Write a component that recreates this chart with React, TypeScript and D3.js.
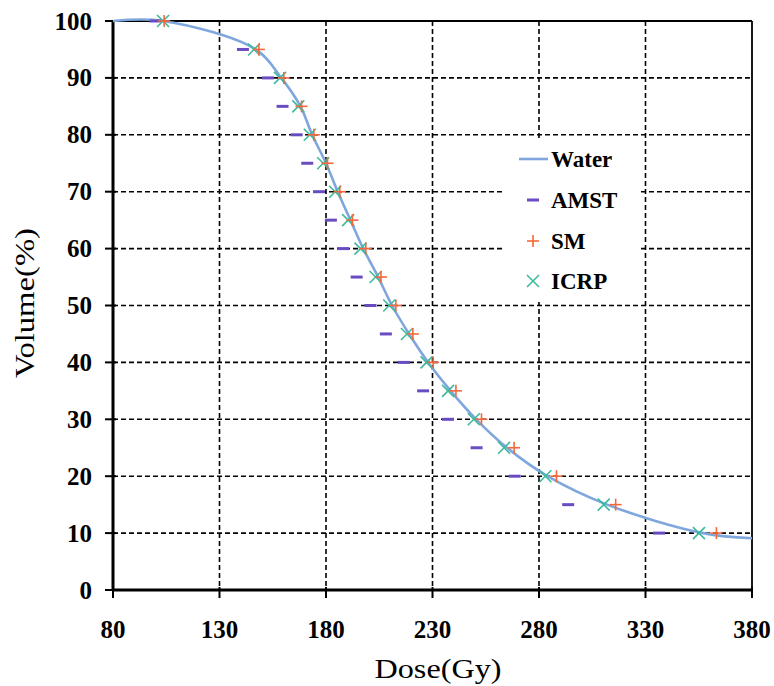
import * as d3 from "d3";

// Volume levels (%) shared by the marker series
const levels = [100, 95, 90, 85, 80, 75, 70, 65, 60, 55, 50, 45, 40, 35, 30, 25, 20, 15, 10];

// Dose (Gy) at each level
const amst = [100, 141, 152.7, 159.6, 166.2, 171.2, 176.7, 182.3, 188.1, 194.4, 200.9, 208.1, 216.6, 225.6, 237.3, 250.7, 268.6, 293.7, 336.4];
const sm = [104, 148.5, 160.2, 168.5, 174.3, 180.7, 186.5, 192.4, 198.7, 205.8, 212.8, 220.8, 230.3, 241.0, 253.0, 268.3, 288.2, 316.0, 363.3];
const icrp = [103.5, 146.2, 158.4, 167.0, 172.4, 178.7, 184.3, 190.4, 196.2, 203.3, 209.7, 218.0, 227.2, 237.3, 249.4, 263.6, 283.0, 310.4, 355.1];

// Water curve
const waterDose = [80, 103.5, 147, 159, 168, 173.5, 180, 185.5, 191.5, 197.5, 204.5, 211, 219, 228, 238.5, 250.5, 265, 284, 312, 357, 380];
const waterVol = [100, 100, 95, 90, 85, 80, 75, 70, 65, 60, 55, 50, 45, 40, 35, 30, 25, 20, 15, 10, 9.1];

const xTicks = [80, 130, 180, 230, 280, 330, 380];
const yTicks = [0, 10, 20, 30, 40, 50, 60, 70, 80, 90, 100];

const C_WATER = "#7fa7dd";
const C_AMST = "#6a4cc2";
const C_SM = "#f4683a";
const C_ICRP = "#3dba9c";
const SERIF = "'Times New Roman', 'Liberation Serif', serif";

export default function App() {
  const W = 774, H = 686;
  const m = { left: 113, right: 752, top: 21, bottom: 590 };
  const x = d3.scaleLinear().domain([80, 380]).range([m.left, m.right]);
  const y = d3.scaleLinear().domain([0, 100]).range([m.bottom, m.top]);

  const line = d3.line<number>()
    .x((d) => x(d))
    .y((_, i) => y(waterVol[i]))
    .curve(d3.curveCatmullRom.alpha(0.5));

  const dash = (cx: number, cy: number, key: string) => (
    <line key={key} x1={cx - 6} x2={cx + 6} y1={cy} y2={cy} stroke={C_AMST} strokeWidth={3} />
  );
  const plus = (cx: number, cy: number, key: string) => (
    <g key={key} stroke={C_SM} strokeWidth={1.6}>
      <line x1={cx - 6} x2={cx + 6} y1={cy} y2={cy} />
      <line x1={cx} x2={cx} y1={cy - 6} y2={cy + 6} />
    </g>
  );
  const cross = (cx: number, cy: number, key: string) => (
    <g key={key} stroke={C_ICRP} strokeWidth={1.6}>
      <line x1={cx - 6} x2={cx + 6} y1={cy - 6} y2={cy + 6} />
      <line x1={cx - 6} x2={cx + 6} y1={cy + 6} y2={cy - 6} />
    </g>
  );

  return (
    <svg width={W} height={H} style={{ position: "absolute", left: 0, top: 0, background: "#fff" }}>
      {/* grid */}
      <g stroke="#000" strokeWidth={1.6} strokeDasharray="5,3">
        {yTicks.filter((t) => t > 0 && t < 100).map((t) => (
          <line key={"gy" + t} x1={m.left} x2={m.right} y1={y(t)} y2={y(t)} />
        ))}
        {xTicks.filter((t) => t > 80 && t < 380).map((t) => (
          <line key={"gx" + t} x1={x(t)} x2={x(t)} y1={m.top} y2={m.bottom} />
        ))}
      </g>

      {/* frame */}
      <line x1={m.left} x2={m.right} y1={m.top} y2={m.top} stroke="#000" strokeWidth={1.8} />
      <line x1={m.right} x2={m.right} y1={m.top} y2={m.bottom} stroke="#000" strokeWidth={1.8} />
      <line x1={m.left} x2={m.left} y1={m.top} y2={m.bottom} stroke="#000" strokeWidth={3} />
      <line x1={m.left} x2={m.right} y1={m.bottom} y2={m.bottom} stroke="#000" strokeWidth={3} />

      {/* ticks */}
      <g stroke="#000" strokeWidth={2}>
        {yTicks.map((t) => (
          <line key={"ty" + t} x1={m.left - 8} x2={m.left + 3} y1={y(t)} y2={y(t)} />
        ))}
        {xTicks.map((t) => (
          <line key={"tx" + t} x1={x(t)} x2={x(t)} y1={m.bottom - 3} y2={m.bottom + 8} />
        ))}
      </g>

      {/* tick labels */}
      <g style={{ fontFamily: SERIF, fontWeight: 700 }} fontSize={25} fill="#000">
        {yTicks.map((t) => (
          <text key={"ly" + t} x={m.left - 21} y={y(t)} dy="0.34em" textAnchor="end">{t}</text>
        ))}
        {xTicks.map((t) => (
          <text key={"lx" + t} x={x(t)} y={638} textAnchor="middle">{t}</text>
        ))}
      </g>

      {/* axis titles */}
      <text x={438} y={678} textAnchor="middle" style={{ fontFamily: SERIF }} fontSize={27}
        textLength={127} lengthAdjust="spacingAndGlyphs">Dose(Gy)</text>
      <text transform="translate(34,303) rotate(-90)" textAnchor="middle" style={{ fontFamily: SERIF }} fontSize={27}
        textLength={150} lengthAdjust="spacingAndGlyphs">Volume(%)</text>

      {/* water curve */}
      <path d={line(waterDose) ?? ""} fill="none" stroke={C_WATER} strokeWidth={2.6} />

      {/* markers */}
      {levels.map((v, i) => dash(x(amst[i]), y(v), "a" + i))}
      {levels.map((v, i) => cross(x(icrp[i]), y(v), "c" + i))}
      {levels.map((v, i) => plus(x(sm[i]), y(v), "s" + i))}

      {/* legend */}
      <rect x={504} y={138} width={136} height={164} fill="#fff" />
      <g style={{ fontFamily: SERIF, fontWeight: 700 }} fontSize={23} fill="#000">
        <line x1={519} x2={548} y1={159} y2={159} stroke={C_WATER} strokeWidth={2.6} />
        <text x={551} y={167}>Water</text>
        {dash(533, 200, "la")}
        <text x={551} y={208}>AMST</text>
        {plus(533, 241, "ls")}
        <text x={551} y={249}>SM</text>
        {cross(533, 281, "lc")}
        <text x={551} y={289}>ICRP</text>
      </g>
    </svg>
  );
}
